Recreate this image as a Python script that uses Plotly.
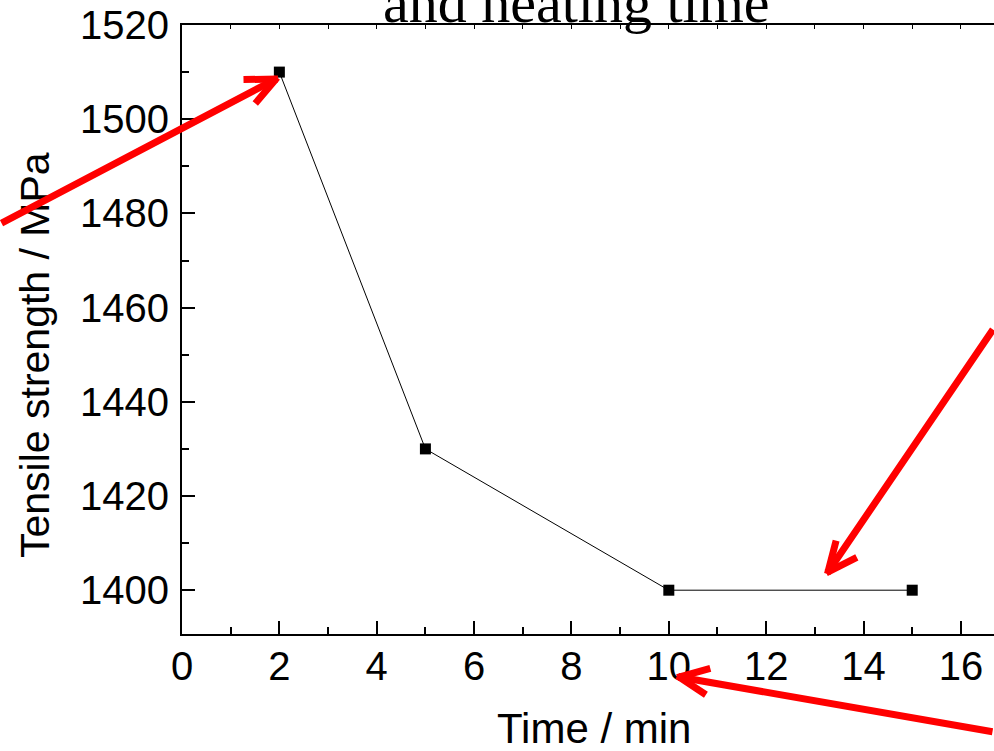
import math
import plotly.graph_objects as go

# Data
time_min = [2, 5, 10, 15]
tensile_mpa = [1510, 1430, 1400, 1400]

x_ticks = [0, 2, 4, 6, 8, 10, 12, 14, 16]
y_ticks = [1400, 1420, 1440, 1460, 1480, 1500, 1520]

title_text = "and heating time"
x_title = "Time / min"
y_title = "Tensile strength / MPa"

X_RANGE = [0, 16.68]
Y_RANGE = [1390.7, 1520]

fig = go.Figure()
fig.add_trace(go.Scatter(
    x=time_min, y=tensile_mpa, mode="lines+markers",
    line=dict(color="black", width=1),
    marker=dict(symbol="square", size=11, color="black"),
    showlegend=False, cliponaxis=False,
))

axis_font = dict(family="Liberation Sans, Arial, sans-serif", size=40, color="black")

PLOT_L, PLOT_T, PLOT_W, PLOT_H = 182, 25, 812, 609

fig.update_layout(
    width=994, height=751,
    margin=dict(l=PLOT_L, r=0, t=PLOT_T, b=751 - PLOT_T - PLOT_H),
    paper_bgcolor="white", plot_bgcolor="white",
    xaxis=dict(
        range=X_RANGE, tickvals=x_ticks, ticktext=[str(v) for v in x_ticks],
        ticks="inside", ticklen=13, tickwidth=2, tickcolor="black",
        showline=True, linewidth=2, linecolor="black",
        showgrid=False, zeroline=False, tickfont=axis_font,
        ticklabelstandoff=-4,
        minor=dict(dtick=1, tick0=0, ticks="inside", ticklen=7, tickwidth=2, tickcolor="black", showgrid=False),
    ),
    xaxis2=dict(
        range=X_RANGE, overlaying="x", side="top", dtick=1, tick0=0,
        ticks="inside", ticklen=4, tickwidth=1, tickcolor="black",
        showline=True, linewidth=2, linecolor="black",
        showticklabels=False, showgrid=False, zeroline=False,
    ),
    yaxis=dict(
        range=Y_RANGE, tickvals=y_ticks, ticktext=[str(v) for v in y_ticks],
        ticks="inside", ticklen=13, tickwidth=2, tickcolor="black",
        showline=True, linewidth=2, linecolor="black",
        showgrid=False, zeroline=False, tickfont=axis_font,
        ticklabelstandoff=3,
        minor=dict(dtick=10, tick0=1400, ticks="inside", ticklen=7, tickwidth=2, tickcolor="black", showgrid=False),
    ),
)
# dummy trace on xaxis2 so the top axis is drawn
fig.add_trace(go.Scatter(x=[None], y=[None], xaxis="x2", showlegend=False))


def px_to_paper(px, py):
    return (px - PLOT_L) / PLOT_W, (PLOT_T + PLOT_H - py) / PLOT_H

# title (partially cut at top, as in the source)
tx, ty = px_to_paper(576.5, 2.4)
fig.add_annotation(text=title_text, xref="paper", yref="paper", x=tx, y=ty,
                   xanchor="center", yanchor="middle", showarrow=False,
                   font=dict(family="Liberation Serif, Times New Roman, serif", size=58, color="black"))

# axis titles
ax_x, ax_y = px_to_paper(594, 728)
fig.add_annotation(text=x_title, xref="paper", yref="paper", x=ax_x, y=ax_y,
                   xanchor="center", yanchor="middle", showarrow=False,
                   font=dict(family="Liberation Sans, Arial, sans-serif", size=42, color="black"))
ay_x, ay_y = px_to_paper(35, 355)
fig.add_annotation(text=y_title, xref="paper", yref="paper", x=ay_x, y=ay_y, textangle=-90,
                   xanchor="center", yanchor="middle", showarrow=False,
                   font=dict(family="Liberation Sans, Arial, sans-serif", size=41, color="black"))

# red arrows: tip (px) and tail offset (px)
RED = "#ff0000"
arrows = [((276, 79), (-306, 145)), ((828, 572), (196, -244)), ((679, 677), (345, 55))]
WING_BACK, WING_OUT, LW = 31, 14, 7
for (tpx, tpy), (dx, dy) in arrows:
    x0, y0 = px_to_paper(tpx, tpy)
    # shaft
    fig.add_annotation(x=x0, y=y0, xref="paper", yref="paper", ax=dx, ay=dy,
                       axref="pixel", ayref="pixel", text="", showarrow=True,
                       arrowhead=0, arrowwidth=LW, arrowcolor=RED, standoff=0)
    # open chevron head drawn as two wing strokes
    L = math.hypot(dx, dy)
    ux, uy = dx / L, dy / L
    nx, ny = -uy, ux
    for s in (1, -1):
        wx = WING_BACK * ux + s * WING_OUT * nx
        wy = WING_BACK * uy + s * WING_OUT * ny
        # extend slightly past the tip so the point is sharp
        ex, ey = -wx / math.hypot(wx, wy) * 2, -wy / math.hypot(wx, wy) * 2
        px1, py1 = px_to_paper(tpx + ex, tpy + ey)
        fig.add_annotation(x=px1, y=py1, xref="paper", yref="paper", ax=wx - ex, ay=wy - ey,
                           axref="pixel", ayref="pixel", text="", showarrow=True,
                           arrowhead=0, arrowwidth=LW, arrowcolor=RED, standoff=0)

fig.write_html("out.html")
